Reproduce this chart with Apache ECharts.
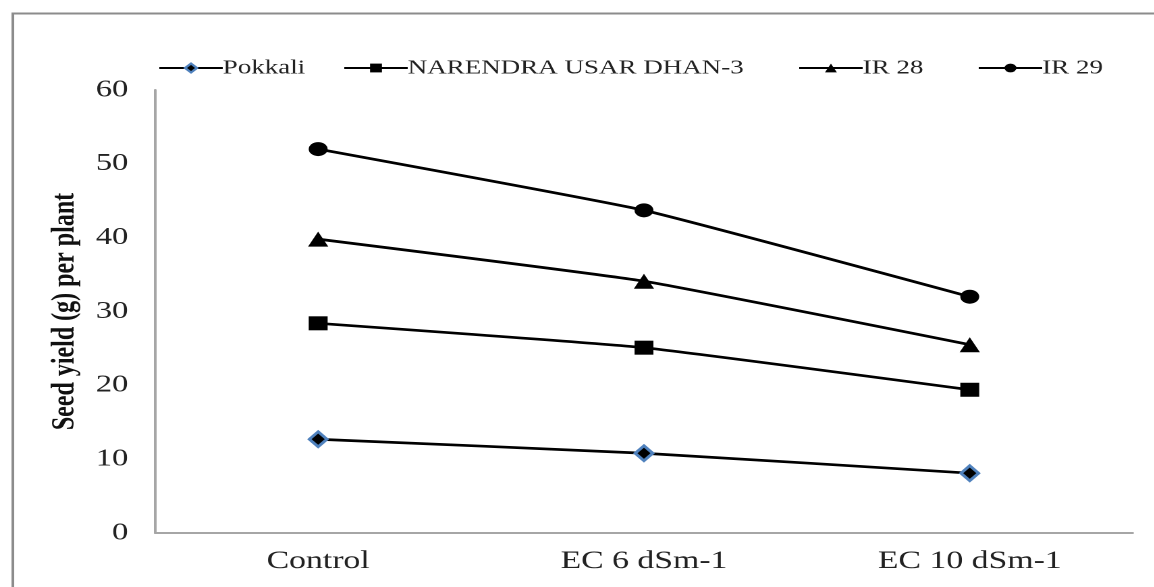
<!DOCTYPE html>
<html>
<head>
<meta charset="utf-8">
<script src="https://cdn.jsdelivr.net/npm/echarts@6/dist/echarts.min.js"></script>
<style>
html,body{margin:0;padding:0;background:#fff;overflow:hidden;width:1154px;height:587px;}
#chart{width:855px;height:587px;transform:scaleX(1.35);transform-origin:0 0;}
</style>
</head>
<body>
<div id="chart"></div>
<script>
const categories = ['Control', 'EC 6 dSm-1', 'EC 10 dSm-1'];
const seriesNames = ['Pokkali', 'NARENDRA USAR DHAN-3', 'IR 28', 'IR 29'];
const pokkali = [12.7, 10.8, 8.1];
const narendra = [28.4, 25.1, 19.4];
const ir28 = [39.8, 34.1, 25.5];
const ir29 = [52.0, 43.7, 32.0];
const yTicks = { min: 0, max: 60, interval: 10 };
const yName = 'Seed yield (g) per plant';

const serif = 'Liberation Serif';
const chart = echarts.init(document.getElementById('chart'), null, { renderer: 'canvas', devicePixelRatio: 2 });

function mk(name, data, symbol, size, itemStyle) {
  return {
    name: name, type: 'line', data: data, symbol: symbol, symbolSize: size,
    smooth: 0.12,
    lineStyle: { color: '#000', width: 2.7 },
    itemStyle: itemStyle,
    z: 3
  };
}

const legendLefts = [112, 249, 586, 719];
const legends = seriesNames.map(function (n, i) {
  return {
    top: 53, left: legendLefts[i],
    itemWidth: 47, itemHeight: 11, itemGap: 0,
    textStyle: { fontFamily: serif, fontSize: 20, color: '#222', padding: [0, 0, 0, -5] },
    data: [n]
  };
});

chart.setOption({
  animation: false,
  backgroundColor: '#fff',
  graphic: [{
    type: 'rect', left: 7, top: 11, z: -1,
    shape: { width: 1300, height: 700 },
    style: { fill: 'none', stroke: '#8c8c8c', lineWidth: 2 }
  }],
  grid: { left: 115, right: 16, top: 90, bottom: 54 },
  legend: legends,
  xAxis: {
    type: 'category', data: categories, boundaryGap: true,
    axisLine: { lineStyle: { color: '#a6a6a6', width: 2 } },
    axisTick: { show: false },
    axisLabel: { fontFamily: serif, fontSize: 25, color: '#222', margin: 16 }
  },
  yAxis: {
    type: 'value', min: yTicks.min, max: yTicks.max, interval: yTicks.interval,
    name: yName, nameLocation: 'middle', nameGap: 54, nameRotate: 90,
    nameTextStyle: { fontFamily: serif, fontSize: 24, fontWeight: 'bold', color: '#111' },
    axisLine: { show: true, lineStyle: { color: '#a6a6a6', width: 2 } },
    axisTick: { show: false },
    splitLine: { show: false },
    axisLabel: { fontFamily: serif, fontSize: 24, color: '#222', margin: 20 }
  },
  series: [
    mk(seriesNames[0], pokkali, 'diamond', [13, 15], { color: '#000', borderColor: '#4f81bd', borderWidth: 2.5 }),
    mk(seriesNames[1], narendra, 'rect', 14, { color: '#000' }),
    mk(seriesNames[2], ir28, 'triangle', 15, { color: '#000' }),
    mk(seriesNames[3], ir29, 'circle', 14, { color: '#000' })
  ]
});
</script>
</body>
</html>
